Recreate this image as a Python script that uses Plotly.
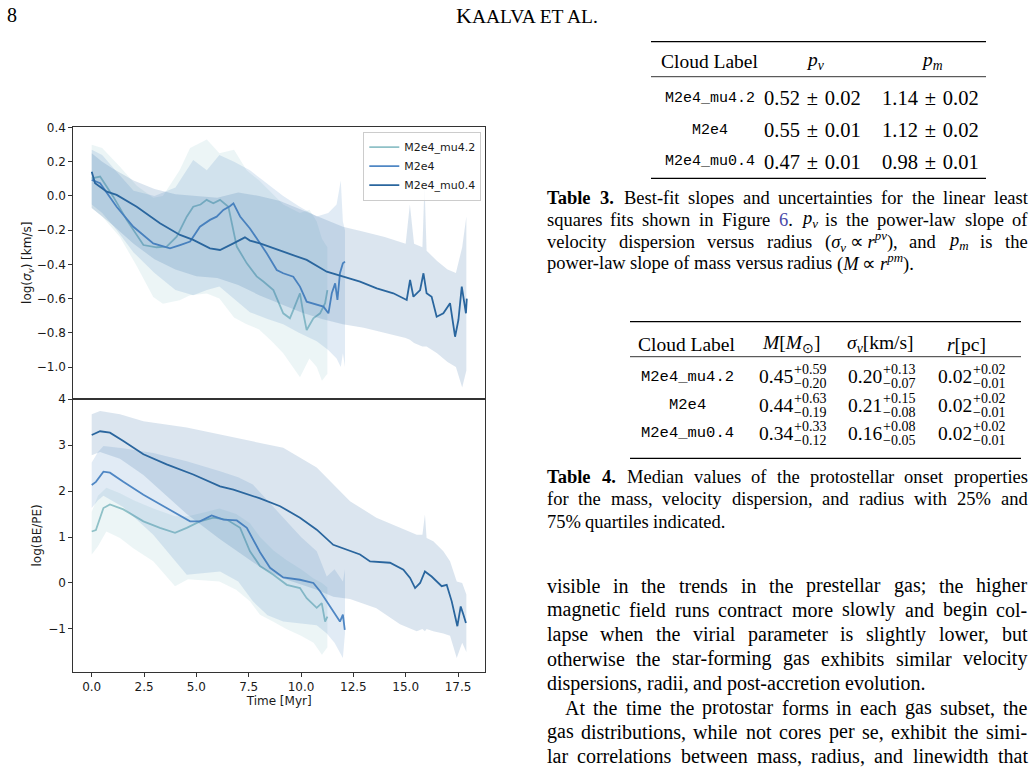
import re
import plotly.graph_objects as go

W, H = 1036, 768

labels = ["M2e4_mu4.2", "M2e4", "M2e4_mu0.4"]
line_colors = ["#8fc1c7", "#4f87c4", "#2a669e"]
fill_colors = ["rgba(143,193,199,0.17)", "rgba(79,135,196,0.17)", "rgba(42,102,158,0.17)"]

# ---------------- top panel: log(sigma_v) ----------------
mu42_sig_t = [0, 0.4, 1.03, 1.67, 2.47, 3.1, 3.58, 4.06, 4.54, 4.85, 5.2, 5.49, 5.81, 6.13, 6.53, 6.93,
              7.41, 7.88, 8.2, 8.68, 9.15, 9.47, 9.63, 9.95, 10.11, 10.27, 10.59, 10.91, 11.15, 11.26]
mu42_sig_v = [0.103, 0.113, -0.004, -0.14, -0.287, -0.30, -0.296, -0.238, -0.121, -0.063, -0.05, -0.023,
              -0.043, -0.023, -0.063, -0.296, -0.394, -0.47, -0.50, -0.55, -0.686, -0.715, -0.667, -0.569,
              -0.686, -0.784, -0.715, -0.686, -0.627, -0.55]

m2e4_sig_t = [0, 0.4, 1.19, 1.99, 2.94, 3.74, 4.22, 4.7, 5.17, 5.65, 5.97, 6.29, 6.6, 6.77, 7.09, 7.56,
              8.04, 8.36, 8.84, 9.15, 9.63, 9.95, 10.27, 10.75, 11.07, 11.31, 11.47, 11.63, 11.74, 11.86,
              12.0, 12.1]
m2e4_sig_v = [0.094, 0.074, -0.063, -0.18, -0.277, -0.306, -0.287, -0.267, -0.18, -0.14, -0.121, -0.082,
              -0.06, -0.043, -0.12, -0.19, -0.277, -0.335, -0.433, -0.452, -0.472, -0.53, -0.618, -0.637,
              -0.647, -0.686, -0.569, -0.511, -0.608, -0.452, -0.394, -0.384]

mu04_sig_t = [0, 0.16, 0.72, 1.19, 2.15, 3.26, 4.22, 4.85, 5.65, 6.13, 6.77, 7.32, 7.56, 8.04, 9.15, 10.27,
              11.23, 12.02, 12.82, 13.62, 14.41, 15.05, 15.21, 15.37, 15.69, 15.85, 16.0, 16.24, 16.48,
              16.8, 17.12, 17.36, 17.52, 17.68, 17.76, 17.88, 17.92]
mu04_sig_v = [0.142, 0.074, 0.025, 0.006, -0.063, -0.16, -0.228, -0.257, -0.306, -0.316, -0.277, -0.242,
              -0.261, -0.277, -0.326, -0.374, -0.443, -0.472, -0.501, -0.54, -0.569, -0.608, -0.491, -0.589,
              -0.55, -0.452, -0.569, -0.589, -0.706, -0.686, -0.627, -0.823, -0.725, -0.53, -0.589, -0.686,
              -0.60]

mu42_sigband_t = [0, 0.5, 1.35, 2.15, 2.94, 3.4, 4.2, 4.7, 5.5, 6.1, 6.8, 7.4, 8.0, 8.6, 9.15, 9.95, 10.4,
                  10.75, 11.0, 11.26]
mu42_sigband_hi = [0.30, 0.28, 0.17, 0.06, -0.01, 0.0, 0.15, 0.28, 0.33, 0.25, 0.27, 0.15, 0.09, 0.02,
                   -0.05, -0.1, -0.08, -0.15, -0.25, -0.3]
mu42_sigband_lo = [-0.07, -0.12, -0.24, -0.41, -0.59, -0.63, -0.61, -0.58, -0.57, -0.6, -0.71, -0.75,
                   -0.78, -0.85, -0.92, -1.06, -0.95, -1.0, -1.08, -1.04]

m2e4_sigband_t = [0, 0.5, 1.2, 2.0, 3.0, 4.0, 4.85, 5.5, 6.1, 6.8, 7.56, 8.4, 9.15, 9.9, 10.75, 11.3,
                  11.7, 11.9, 12.0, 12.1]
m2e4_sigband_hi = [0.27, 0.24, 0.14, 0.03, 0.0, 0.05, 0.21, 0.15, 0.24, 0.2, 0.15, 0.07, 0.0, -0.06,
                   -0.12, -0.1, -0.05, 0.09, -0.15, -0.2]
m2e4_sigband_lo = [-0.05, -0.1, -0.2, -0.33, -0.45, -0.55, -0.58, -0.55, -0.53, -0.6, -0.68, -0.72,
                   -0.75, -0.8, -0.85, -0.9, -0.95, -1.0, -0.92, -1.0]

mu04_sigband_t = [0, 0.5, 1, 2, 3, 4, 5, 6, 7, 8, 9, 10, 11, 12, 13, 14, 15, 15.2, 15.4, 15.8, 15.9,
                  16.0, 16.5, 17, 17.4, 17.7, 17.9]
mu04_sigband_hi = [0.25, 0.2, 0.16, 0.09, 0.04, 0.01, 0.0, -0.01, 0.02, 0.0, -0.03, -0.08, -0.13, -0.18,
                   -0.21, -0.24, -0.28, -0.05, -0.28, -0.3, 0.07, -0.32, -0.38, -0.43, -0.45, -0.3, -0.12]
mu04_sigband_lo = [-0.07, -0.12, -0.17, -0.28, -0.37, -0.43, -0.47, -0.48, -0.52, -0.58, -0.63, -0.68,
                   -0.72, -0.75, -0.77, -0.8, -0.83, -0.84, -0.86, -0.88, -0.88, -0.88, -0.92, -0.97,
                   -1.0, -1.12, -1.02]

# ---------------- bottom panel: log(BE/PE) ----------------
mu42_be_t = [0, 0.2, 0.56, 0.87, 1.51, 2.47, 3.26, 3.98, 4.54, 5.17, 5.81, 6.45, 7.09, 7.56, 8.04, 8.68,
             9.32, 9.95, 10.27, 10.75, 10.99, 11.15, 11.26]
mu42_be_v = [1.12, 1.15, 1.63, 1.71, 1.60, 1.34, 1.20, 1.09, 1.20, 1.34, 1.42, 1.38, 1.20, 0.69, 0.37,
             0.18, -0.04, -0.11, -0.33, -0.54, -0.44, -0.84, -0.73]

m2e4_be_t = [0, 0.2, 0.56, 0.87, 1.51, 2.47, 3.58, 4.7, 5.17, 5.73, 6.29, 6.93, 7.41, 7.72, 8.04, 8.52,
             9.15, 9.95, 10.59, 10.91, 11.31, 11.54, 11.86, 12.0, 12.09]
m2e4_be_v = [2.13, 2.2, 2.42, 2.40, 2.2, 1.92, 1.63, 1.34, 1.34, 1.47, 1.38, 1.36, 1.20, 0.95, 0.67, 0.33,
             0.12, 0.07, 0.0, -0.18, -0.47, -0.62, -0.84, -0.69, -1.02]

mu04_be_t = [0, 0.4, 0.87, 1.51, 2.47, 3.58, 4.85, 6.13, 6.77, 7.56, 8.04, 9.0, 9.95, 10.75, 11.54, 12.82,
             13.3, 14.25, 14.89, 15.21, 15.45, 15.69, 15.92, 16.24, 16.72, 16.96, 17.2, 17.47, 17.63,
             17.76, 17.88]
mu04_be_v = [3.22, 3.30, 3.27, 3.09, 2.80, 2.58, 2.36, 2.10, 2.03, 1.92, 1.84, 1.67, 1.42, 1.16, 0.83,
             0.62, 0.47, 0.44, 0.29, 0.11, -0.11, 0.0, 0.25, 0.14, -0.07, -0.04, -0.40, -0.94, -0.51,
             -0.69, -0.87]

mu42_beband_t = [0, 0.3, 0.7, 1.35, 2.0, 2.94, 3.98, 4.6, 5.5, 6.1, 6.9, 7.56, 8.04, 8.7, 9.3, 10.0,
                 10.6, 11.0, 11.26]
mu42_beband_hi = [1.55, 1.9, 2.07, 1.95, 1.8, 1.62, 1.45, 1.45, 1.55, 1.62, 1.5, 1.3, 1.0, 0.7, 0.5,
                  0.3, 0.1, 0.0, -0.1]
mu42_beband_lo = [0.62, 0.8, 1.12, 0.98, 0.75, 0.47, -0.07, 0.08, 0.05, 0.03, -0.15, -0.4, -0.69,
                  -0.85, -1.0, -1.15, -1.3, -1.56, -1.4]

m2e4_beband_t = [0, 0.3, 0.56, 1.5, 2.94, 4.54, 6.13, 7.0, 7.7, 8.4, 9.15, 10.0, 10.75, 11.23, 11.6,
                 12.0, 12.1]
m2e4_beband_hi = [2.62, 2.85, 2.98, 2.93, 2.83, 2.65, 2.43, 2.3, 2.14, 1.8, 1.42, 1.0, 0.69, 0.14, 0.3,
                  0.03, 0.3]
m2e4_beband_lo = [1.63, 1.8, 1.9, 1.65, 1.05, 0.18, 0.25, 0.03, -0.4, -0.7, -0.84, -0.88, -0.92, -1.1,
                  -1.3, -1.63, -1.1]

mu04_beband_t = [0, 0.4, 1.35, 2.47, 4.54, 6.13, 8.04, 9.15, 10.75, 11.54, 12.34, 13.6, 14.73, 15.53,
                 15.8, 15.92, 16.0, 16.32, 16.8, 17.12, 17.44, 17.7, 17.9]
mu04_beband_hi = [3.67, 3.74, 3.67, 3.52, 3.38, 3.23, 3.05, 2.94, 2.51, 2.14, 1.78, 1.42, 1.20, 1.05,
                  1.05, 1.49, 0.98, 0.91, 0.69, 0.47, 0.03, 0.0, -0.25]
mu04_beband_lo = [2.78, 2.85, 2.7, 2.35, 1.5, 0.95, 0.35, 0.1, -0.15, -0.3, -0.35, -0.55, -0.9, -1.05,
                  -1.0, -1.05, -1.0, -1.05, -1.1, -1.15, -1.63, -1.3, -1.5]

x_ticks = [0, 2.5, 5.0, 7.5, 10.0, 12.5, 15.0, 17.5]
sig_ticks = [-1.0, -0.8, -0.6, -0.4, -0.2, 0.0, 0.2, 0.4]
be_ticks = [-1, 0, 1, 2, 3, 4]

sig_lines = [(mu42_sig_t, mu42_sig_v), (m2e4_sig_t, m2e4_sig_v), (mu04_sig_t, mu04_sig_v)]
sig_bands = [(mu42_sigband_t, mu42_sigband_lo, mu42_sigband_hi),
             (m2e4_sigband_t, m2e4_sigband_lo, m2e4_sigband_hi),
             (mu04_sigband_t, mu04_sigband_lo, mu04_sigband_hi)]
be_lines = [(mu42_be_t, mu42_be_v), (m2e4_be_t, m2e4_be_v), (mu04_be_t, mu04_be_v)]
be_bands = [(mu42_beband_t, mu42_beband_lo, mu42_beband_hi),
            (m2e4_beband_t, m2e4_beband_lo, m2e4_beband_hi),
            (mu04_beband_t, mu04_beband_lo, mu04_beband_hi)]

# ---------------- page text ----------------
table3_rows = [("M2e4_mu4.2", "0.52 ± 0.02", "1.14 ± 0.02"),
               ("M2e4", "0.55 ± 0.01", "1.12 ± 0.02"),
               ("M2e4_mu0.4", "0.47 ± 0.01", "0.98 ± 0.01")]
table4_labels = ["M2e4_mu4.2", "M2e4", "M2e4_mu0.4"]
table4_M = [("0.45", "+0.59", "−0.20"), ("0.44", "+0.63", "−0.19"), ("0.34", "+0.33", "−0.12")]
table4_sig = [("0.20", "+0.13", "−0.07"), ("0.21", "+0.15", "−0.08"), ("0.16", "+0.08", "−0.05")]
table4_r = [("0.02", "+0.02", "−0.01"), ("0.02", "+0.02", "−0.01"), ("0.02", "+0.02", "−0.01")]

caption3 = ["<b>Table</b> <b>3.</b> Best-fit slopes and uncertainties for the linear least",
            "squares fits shown in Figure <span style='color:#4a4aa8'>6</span>. <i>p</i><sub><i>v</i></sub> is the power-law slope of",
            "velocity dispersion versus radius (<i>σ</i><sub><i>v</i></sub>\u2009∝\u2009<i>r</i><sup><i>pv</i></sup>), and <i>p</i><sub><i>m</i></sub> is the",
            "power-law slope of mass versus radius (<i>M</i>\u2009∝\u2009<i>r</i><sup><i>pm</i></sup>)."]
caption4 = ["<b>Table</b> <b>4.</b> Median values of the protostellar onset properties",
            "for the mass, velocity dispersion, and radius with 25% and",
            "75% quartiles indicated."]
body_lines = ["visible in the trends in the prestellar gas; the higher",
              "magnetic field runs contract more slowly and begin col-",
              "lapse when the virial parameter is slightly lower, but",
              "otherwise the star-forming gas exhibits similar velocity",
              "dispersions, radii, and post-accretion evolution.",
              "At the time the protostar forms in each gas subset, the",
              "gas distributions, while not cores per se, exhibit the simi-",
              "lar correlations between mass, radius, and linewidth that"]

fig = go.Figure()


def add_band(t, lo, hi, color, xa, ya):
    fig.add_trace(go.Scatter(x=list(t) + list(t)[::-1], y=list(hi) + list(lo)[::-1], fill="toself",
                             fillcolor=color, line=dict(width=0), mode="lines", hoverinfo="skip",
                             showlegend=False, xaxis=xa, yaxis=ya))


for i in range(3):
    t, lo, hi = sig_bands[i]
    add_band(t, lo, hi, fill_colors[i], "x", "y")
    fig.add_trace(go.Scatter(x=sig_lines[i][0], y=sig_lines[i][1], mode="lines", name=labels[i],
                             line=dict(color=line_colors[i], width=1.8), showlegend=True,
                             xaxis="x", yaxis="y"))
    t, lo, hi = be_bands[i]
    add_band(t, lo, hi, fill_colors[i], "x2", "y2")
    fig.add_trace(go.Scatter(x=be_lines[i][0], y=be_lines[i][1], mode="lines", name=labels[i],
                             line=dict(color=line_colors[i], width=1.8), showlegend=False,
                             xaxis="x2", yaxis="y2"))


def PX(x):
    return x / W


def PY(y):
    return 1 - y / H


ax_common = dict(showline=True, mirror=True, linecolor="#333333", linewidth=1, showgrid=False,
                 zeroline=False, ticklen=4, tickcolor="#333333", tickwidth=1,
                 automargin=False, tickfont=dict(family="DejaVu Sans", size=12, color="#1a1a1a"))
xdom = [PX(73.3), PX(485)]
fig.update_layout(
    width=W, height=H, margin=dict(l=0, r=0, t=0, b=0), paper_bgcolor="white", plot_bgcolor="white",
    font=dict(family="DejaVu Sans", size=12, color="#1a1a1a"),
    xaxis=dict(domain=xdom, anchor="y", range=[-0.88, 18.79], tickvals=x_ticks, showticklabels=False,
               ticks="", **ax_common),
    yaxis=dict(domain=[PY(399), PY(126.5)], anchor="x", range=[-1.187, 0.406], tickvals=sig_ticks,
               tickformat=".1f", ticks="outside",
               title=dict(text="log(<i>σ</i><sub><i>v</i></sub>) [km/s]", standoff=2, font=dict(size=12)),
               **ax_common),
    xaxis2=dict(domain=xdom, anchor="y2", range=[-0.88, 18.79], tickvals=x_ticks, tickformat=".1f",
                ticks="outside", title=dict(text="Time [Myr]", standoff=1, font=dict(size=12)), **ax_common),
    yaxis2=dict(domain=[PY(671.7), PY(399)], anchor="x2", range=[-1.93, 4.002], tickvals=be_ticks,
                ticks="outside", title=dict(text="log(BE/PE)", standoff=3, font=dict(size=12)), **ax_common),
    legend=dict(x=PX(363.3), y=PY(131.7), xanchor="left", yanchor="top", bordercolor="#cccccc",
                borderwidth=1, bgcolor="rgba(255,255,255,0.8)", font=dict(size=11, family="DejaVu Sans"),
                itemwidth=30, tracegroupgap=0),
)

ann = []
shapes = []
SERIF = "Liberation Serif"
MONO = "Liberation Mono"


def txt(x, y, s, size, anchor="left", font=SERIF, color="black"):
    ann.append(dict(x=PX(x), y=PY(y), xref="paper", yref="paper", text=s, showarrow=False,
                    xanchor=anchor, yanchor="middle", font=dict(family=font, size=size, color=color),
                    borderpad=0, borderwidth=0))


def rule(x0, x1, y, w):
    shapes.append(dict(type="line", xref="paper", yref="paper", x0=PX(x0), x1=PX(x1), y0=PY(y), y1=PY(y),
                       line=dict(color="black", width=w)))


# Times / Liberation Serif advance widths (1/1000 em)
TW = {" ": 250, "\u2009": 200, "!": 333, "%": 833, "(": 333, ")": 333, "+": 564, ",": 250, "-": 333,
      ".": 250, "/": 278, ":": 278, ";": 278, "?": 444, "±": 564, "∝": 600, "σ": 550, "⊙": 800,
      "A": 722, "B": 667, "C": 667, "D": 722, "E": 611, "F": 556, "G": 722, "H": 722, "I": 333, "J": 389,
      "K": 722, "L": 611, "M": 889, "N": 722, "O": 722, "P": 556, "Q": 722, "R": 667, "S": 556, "T": 611,
      "U": 722, "V": 722, "W": 944, "X": 722, "Y": 722, "Z": 611,
      "a": 444, "b": 500, "c": 444, "d": 500, "e": 444, "f": 333, "g": 500, "h": 500, "i": 278, "j": 278,
      "k": 500, "l": 278, "m": 778, "n": 500, "o": 500, "p": 500, "q": 500, "r": 333, "s": 389, "t": 278,
      "u": 500, "v": 500, "w": 722, "x": 500, "y": 500, "z": 444}


def text_width(s, size):
    w, scale, bold = 0.0, 1.0, False
    for tok in re.split(r"(<[^>]+>)", s):
        if tok.startswith("<"):
            t = tok.lower()
            if t in ("<sub>", "<sup>"):
                scale = 0.7
            elif t in ("</sub>", "</sup>"):
                scale = 1.0
            elif t == "<b>":
                bold = True
            elif t == "</b>":
                bold = False
            continue
        for ch in tok:
            w += TW.get(ch, 500) * scale * (1.07 if bold else 1.0)
    return w / 1000.0 * size


def para_line(x0, x1, y, s, size, justify=True):
    words = re.findall(r"(?:<[^>]*>|[^ <])+", s)
    widths = [text_width(w, size) for w in words]
    if justify and len(words) > 1:
        gap = (x1 - x0 - sum(widths)) / (len(words) - 1)
    else:
        gap = 0.25 * size
    x = x0
    for w, wd in zip(words, widths):
        txt(x, y, w, size, "left")
        x += wd + gap


# page header
txt(7, 15, "8", 20)
txt(527, 15, "K<span style='font-size:19.5px'>AALVA ET AL.</span>", 22, anchor="center")

# Table 3
rule(651, 986, 41.7, 1.3)
rule(651, 986, 76.7, 0.8)
rule(651, 986, 178.3, 1.3)
txt(710, 61, "Cloud Label", 19.5, "center")
txt(815, 61, "<i>p</i><sub><i>v</i></sub>", 19.5, "center")
txt(932, 61, "<i>p</i><sub><i>m</i></sub>", 19.5, "center")
for (lab, a, b), y in zip(table3_rows, [98.3, 130, 161.7]):
    txt(710, y, lab, 15, "center", MONO)
    txt(812, y, a.replace(" ", "\u2004"), 20.5, "center")
    txt(930, y, b.replace(" ", "\u2004"), 20.5, "center")

for i, (s, y) in enumerate(zip(caption3, [198.3, 220, 241.7, 262.5])):
    para_line(546.5, 1027.5, y, s, 18.5, justify=(i < len(caption3) - 1))

# Table 4
rule(630, 1021, 321.7, 1.3)
rule(630, 1021, 356.7, 0.8)
rule(630, 1021, 458.3, 1.3)
txt(687, 344, "Cloud Label", 19.5, "center")
txt(791, 344, "<i>M</i>[<i>M</i><sub>⊙</sub>]", 19.5, "center")
txt(880, 344, "<i>σ</i><sub><i>v</i></sub>[km/s]", 19.5, "center")
txt(966, 344, "<i>r</i>[pc]", 19.5, "center")
for i, y in enumerate([376.7, 405, 433.3]):
    txt(687, y, table4_labels[i], 15.5, "center", MONO)
    for (m, p, n), xs in ((table4_M[i], 793), (table4_sig[i], 882), (table4_r[i], 972)):
        txt(xs, y, m, 19.5, "right")
        txt(xs + 1, y - 7, p, 14, "left")
        txt(xs + 1, y + 7, n, 14, "left")

for i, (s, y) in enumerate(zip(caption4, [477.3, 499.3, 521.7])):
    para_line(546.5, 1027.5, y, s, 18.5, justify=(i < len(caption4) - 1))

for i, s in enumerate(body_lines):
    x0 = 565 if i == 5 else 546.5
    para_line(x0, 1027.5, 585.5 + 24.4 * i, s, 20, justify=(i != 4))

fig.update_layout(annotations=ann, shapes=shapes)
fig.write_html("out.html")
